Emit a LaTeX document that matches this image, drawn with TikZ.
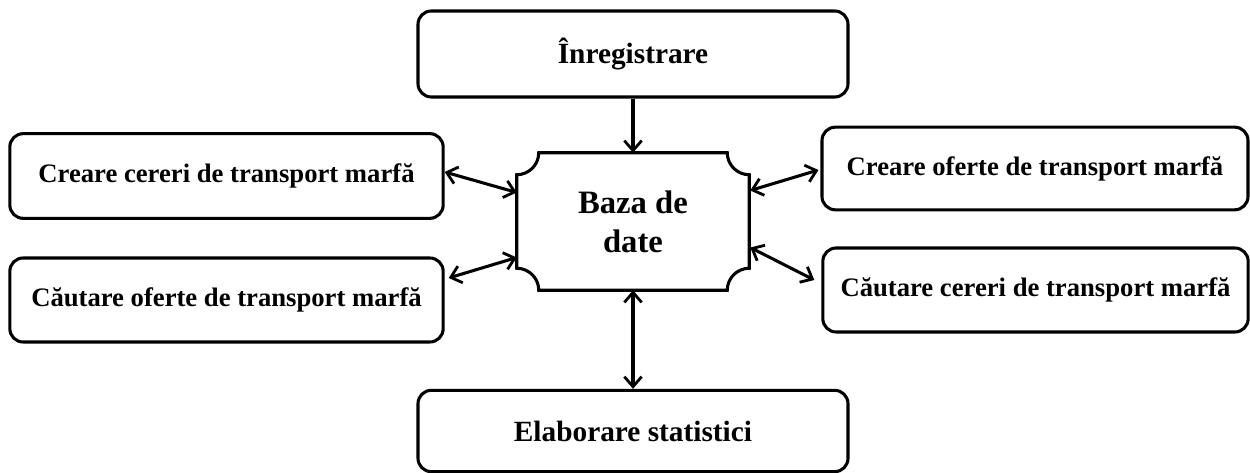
\documentclass[tikz,border=0pt]{standalone}
\usepackage{fontspec}
\setmainfont{Liberation Serif}
\usetikzlibrary{arrows.meta,calc}
\begin{document}
\begin{tikzpicture}[x=0.75pt,y=-0.75pt,
  box/.style={draw, line width=2.3pt, rounded corners=10pt, inner sep=0pt, align=center,
    font=\bfseries\fontsize{20}{24}\selectfont},
  bigbox/.style={box, font=\bfseries\fontsize{22}{26}\selectfont},
  dbtext/.style={inner sep=0pt, align=center, font=\bfseries\fontsize{24.5}{29}\selectfont},
  link/.style={line width=2.3pt, -{Straight Barb[length=7.5pt,width=13pt,line width=2.1pt]}},
  dlink/.style={line width=2.3pt, {Straight Barb[length=7.5pt,width=13pt,line width=2.1pt]}-{Straight Barb[length=7.5pt,width=13pt,line width=2.1pt]}}]
\useasboundingbox (0,0) rectangle (1250,473);
% boxes
\node[bigbox, minimum width=322.5pt, minimum height=64.5pt] (reg) at (633,54) {Înregistrare};
\node[bigbox, minimum width=322.5pt, minimum height=61pt] (stat) at (633,431) {Elaborare statistici};
\node[box, minimum width=325pt, minimum height=63.5pt] (l1) at (226.5,176) {Creare cereri de transport marfă};
\node[box, minimum width=325pt, minimum height=63pt] (l2) at (226.5,300) {Căutare oferte de transport marfă};
\node[box, minimum width=319.5pt, minimum height=62pt] (r1) at (1035,168.5) {Creare oferte de transport marfă};
\node[box, minimum width=319pt, minimum height=63pt] (r2) at (1035.5,290) {Căutare cereri de transport marfă};
% database plaque
\node[dbtext, minimum width=174pt, minimum height=102.75pt] (db) at (633,221.5) {Baza de\\date};
\draw[line width=2.3pt]
  ($(db.north west)+(0,22)$) arc[start angle=-90, end angle=0, radius=16.5pt]
  -- ($(db.north east)+(-22,0)$) arc[start angle=180, end angle=270, radius=16.5pt]
  -- ($(db.south east)+(0,-22)$) arc[start angle=90, end angle=180, radius=16.5pt]
  -- ($(db.south west)+(22,0)$) arc[start angle=0, end angle=90, radius=16.5pt]
  -- cycle;
% connectors
\draw[link] (reg.south) -- (db.north);
\draw[dlink] (db.south) -- (stat.north);
\draw[dlink] ($(l1.east)+(0,-4)$) -- ($(db.west)+(0,-29)$);
\draw[dlink] ($(l2.east)+(4,-22)$) -- ($(db.west)+(0,36)$);
\draw[dlink] ($(db.east)+(1,-31)$) -- ($(r1.west)+(-2,1.5)$);
\draw[dlink] ($(db.east)+(1,26)$) -- ($(r2.west)+(-7,-10)$);
\end{tikzpicture}
\end{document}
